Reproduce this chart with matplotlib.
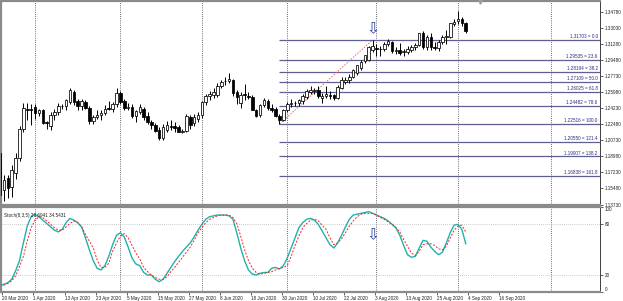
import numpy as np
import matplotlib
matplotlib.use('Agg')
import matplotlib.pyplot as plt

# ---------------- data ----------------
first_bar = -1  # 19 Mar 2020 (partly cut at the left edge)
opens = [1.1935, 1.1530, 1.1660, 1.1560, 1.1720, 1.1880, 1.2200, 1.2420, 1.2420, 1.2440,
         1.2370, 1.2400, 1.2270, 1.2230, 1.2350, 1.2380, 1.2450, 1.2450, 1.2490, 1.2600,
         1.2500, 1.2450, 1.2490, 1.2430, 1.2280, 1.2330, 1.2350, 1.2370, 1.2425, 1.2415,
         1.2470, 1.2590, 1.2500, 1.2430, 1.2440, 1.2340, 1.2380, 1.2420, 1.2340, 1.2275,
         1.2240, 1.2190, 1.2100, 1.2190, 1.2230, 1.2230, 1.2220, 1.2170, 1.2180, 1.2330,
         1.2260, 1.2310, 1.2350, 1.2490, 1.2560, 1.2570, 1.2570, 1.2670, 1.2720, 1.2725,
         1.2730, 1.2600, 1.2480, 1.2580, 1.2560, 1.2550, 1.2410, 1.2345, 1.2460, 1.2500,
         1.2430, 1.2420, 1.2340, 1.2300, 1.2400, 1.2470, 1.2480, 1.2480, 1.2500, 1.2550,
         1.2600, 1.2610, 1.2620, 1.2540, 1.2560, 1.2570, 1.2570, 1.2540, 1.2650, 1.2710,
         1.2730, 1.2770, 1.2810, 1.2860, 1.2935, 1.2955, 1.3060, 1.3080, 1.3070, 1.3070,
         1.3125, 1.3150, 1.3050, 1.3065, 1.3040, 1.3040, 1.3060, 1.3095, 1.3110, 1.3240,
         1.3090, 1.3200, 1.3090, 1.3080, 1.3150, 1.3200, 1.3205, 1.3340, 1.3380, 1.3400,
         1.3350]
highs = [1.2000, 1.1700, 1.1700, 1.1800, 1.1940, 1.2230, 1.2480, 1.2480, 1.2470, 1.2470,
         1.2420, 1.2420, 1.2290, 1.2380, 1.2420, 1.2480, 1.2470, 1.2530, 1.2650, 1.2620,
         1.2520, 1.2530, 1.2510, 1.2450, 1.2350, 1.2400, 1.2400, 1.2460, 1.2500, 1.2490,
         1.2640, 1.2615, 1.2520, 1.2480, 1.2470, 1.2410, 1.2470, 1.2440, 1.2380, 1.2300,
         1.2260, 1.2220, 1.2250, 1.2290, 1.2295, 1.2270, 1.2240, 1.2200, 1.2365, 1.2350,
         1.2360, 1.2380, 1.2500, 1.2580, 1.2610, 1.2640, 1.2700, 1.2730, 1.2760, 1.2810,
         1.2740, 1.2620, 1.2600, 1.2690, 1.2600, 1.2570, 1.2420, 1.2470, 1.2540, 1.2530,
         1.2470, 1.2440, 1.2360, 1.2420, 1.2490, 1.2530, 1.2500, 1.2530, 1.2580, 1.2630,
         1.2670, 1.2650, 1.2670, 1.2590, 1.2670, 1.2610, 1.2580, 1.2680, 1.2760, 1.2760,
         1.2800, 1.2850, 1.2900, 1.2950, 1.3010, 1.3100, 1.31703, 1.3130, 1.3100, 1.3145,
         1.3180, 1.3160, 1.3090, 1.3140, 1.3070, 1.3100, 1.3110, 1.3140, 1.3250, 1.3265,
         1.3220, 1.3250, 1.3150, 1.3170, 1.3220, 1.3280, 1.3360, 1.3400, 1.3482, 1.3420,
         1.3370]
lows = [1.1420, 1.1410, 1.1445, 1.1450, 1.1650, 1.1850, 1.2160, 1.2300, 1.2240, 1.2310,
        1.2340, 1.2250, 1.2200, 1.2190, 1.2300, 1.2350, 1.2420, 1.2410, 1.2470, 1.2460,
        1.2410, 1.2400, 1.2420, 1.2250, 1.2250, 1.2310, 1.2300, 1.2350, 1.2400, 1.2380,
        1.2440, 1.2465, 1.2400, 1.2400, 1.2320, 1.2270, 1.2360, 1.2300, 1.2250, 1.2200,
        1.2170, 1.2075, 1.2080, 1.2170, 1.2190, 1.2170, 1.2160, 1.2150, 1.2165, 1.2200,
        1.2230, 1.2270, 1.2320, 1.2460, 1.2510, 1.2540, 1.2550, 1.2640, 1.2680, 1.2700,
        1.2560, 1.2470, 1.2430, 1.2510, 1.2520, 1.2400, 1.2330, 1.2330, 1.2440, 1.2410,
        1.2380, 1.2330, 1.22516, 1.2290, 1.2380, 1.2440, 1.2450, 1.2450, 1.2470, 1.2530,
        1.2580, 1.2580, 1.2540, 1.2480, 1.2540, 1.2520, 1.2510, 1.2530, 1.2630, 1.2690,
        1.2700, 1.2750, 1.2790, 1.2840, 1.2920, 1.2940, 1.3040, 1.2990, 1.2990, 1.3050,
        1.3100, 1.3030, 1.3020, 1.3010, 1.2990, 1.3020, 1.3040, 1.3060, 1.3100, 1.3070,
        1.3060, 1.3060, 1.3060, 1.3050, 1.3120, 1.3120, 1.3190, 1.3320, 1.3340, 1.3320,
        1.3240]
closes = [1.1480, 1.1640, 1.1550, 1.1750, 1.1880, 1.2200, 1.2430, 1.2410, 1.2410, 1.2370,
          1.2400, 1.2265, 1.2260, 1.2350, 1.2380, 1.2450, 1.2445, 1.2510, 1.2620, 1.2490,
          1.2450, 1.2500, 1.2430, 1.2280, 1.2330, 1.2350, 1.2370, 1.2420, 1.2415, 1.2470,
          1.2590, 1.2490, 1.2430, 1.2440, 1.2340, 1.2390, 1.2440, 1.2330, 1.2270, 1.2240,
          1.2180, 1.2100, 1.2220, 1.2240, 1.2220, 1.2210, 1.2170, 1.2180, 1.2340, 1.2240,
          1.2330, 1.2350, 1.2490, 1.2560, 1.2575, 1.2600, 1.2670, 1.2710, 1.2725, 1.2740,
          1.2590, 1.2550, 1.2570, 1.2570, 1.2550, 1.2410, 1.2340, 1.2460, 1.2510, 1.2430,
          1.2410, 1.2340, 1.2300, 1.2400, 1.2470, 1.2480, 1.2485, 1.2510, 1.2560, 1.2610,
          1.2620, 1.2620, 1.2560, 1.2560, 1.2580, 1.2560, 1.2535, 1.2660, 1.2730, 1.2730,
          1.2770, 1.2840, 1.2895, 1.2930, 1.3000, 1.3095, 1.3100, 1.3075, 1.3068, 1.3130,
          1.3155, 1.3050, 1.3065, 1.3030, 1.3045, 1.3075, 1.3095, 1.3110, 1.3240, 1.3090,
          1.3200, 1.3090, 1.3085, 1.3150, 1.3205, 1.3210, 1.3350, 1.3370, 1.3395, 1.3350,
          1.3270]

stoch_main = [8, 9, 11, 15, 25, 37, 58, 78, 89, 92, 89, 85, 81, 77, 73, 71, 74, 82, 87, 85,
              82, 77, 64, 50, 37, 28, 26, 31, 42, 56, 67, 70, 65, 53, 40, 33, 31, 23, 20, 20,
              15, 12, 15, 22, 29, 36, 42, 48, 53, 58, 65, 73, 80, 86, 89, 90, 91, 91, 91, 90,
              86, 70, 52, 37, 26, 21, 20, 22, 23, 23, 28, 29, 27, 31, 40, 52, 64, 76, 82, 86,
              87, 85, 80, 72, 64, 56, 52, 58, 67, 77, 86, 91, 92, 93, 94, 95, 93, 91, 89, 87,
              84, 80, 76, 67, 55, 44, 41, 42, 52, 61, 60, 53, 48, 44, 47, 58, 70, 79, 80, 74,
              57]
stoch_signal = [7, 8, 10, 13, 19, 30, 42, 60, 76, 85, 89, 88, 84, 80, 76, 73, 73, 77, 81, 84,
                82, 77, 68, 60, 52, 38, 29, 29, 34, 48, 58, 66, 69, 64, 55, 46, 39, 29, 24, 20,
                17, 15, 15, 18, 24, 29, 35, 41, 47, 53, 61, 70, 76, 82, 86, 88, 90, 91, 91, 91,
                88, 81, 66, 50, 37, 28, 23, 21, 22, 23, 24, 26, 28, 29, 31, 42, 55, 66, 76, 81,
                85, 86, 84, 79, 74, 64, 56, 58, 63, 70, 78, 84, 89, 92, 93, 93, 93, 91, 88, 86,
                83, 80, 76, 71, 62, 54, 46, 43, 48, 56, 57, 57, 55, 51, 50, 54, 64, 73, 78, 79,
                71]
stoch_label = "Stoch(8,3,5) 29.6941 34.5431"

date_labels = ["20 Mar 2020", "1 Apr 2020", "13 Apr 2020", "23 Apr 2020", "5 May 2020",
               "15 May 2020", "27 May 2020", "8 Jun 2020", "18 Jun 2020", "30 Jun 2020",
               "10 Jul 2020", "22 Jul 2020", "3 Aug 2020", "13 Aug 2020", "25 Aug 2020",
               "4 Sep 2020", "16 Sep 2020"]
label_step = 8
month_start_bars = [8, 30, 51, 73, 96, 117, 141]

price_ticks = [1.34780, 1.33030, 1.31280, 1.29480, 1.27730, 1.25980, 1.24230,
               1.22480, 1.20730, 1.18980, 1.17230, 1.15480, 1.13730]
stoch_ticks = [100, 80, 20, 0]
stoch_levels = [20, 80]

fib_high = 1.31703
fib_low = 1.22516
fib_high_bar = 95
fib_low_bar = 71
fib_levels = [0.0, 23.6, 38.2, 50.0, 61.8, 78.6, 100.0, 121.4, 138.2, 161.8]

# ---------------- layout ----------------
W, H = 623, 301
fig = plt.figure(figsize=(W / 100, H / 100), dpi=100)
fig.patch.set_facecolor('white')
FONT = ['Liberation Sans', 'DejaVu Sans']
FS = 3.35


def rect(x0, y0, x1, y1):
    return [x0 / W, 1 - y1 / H, (x1 - x0) / W, (y1 - y0) / H]


ax = fig.add_axes(rect(1, 1, 600, 205))
ax2 = fig.add_axes(rect(1, 207, 600, 292), sharex=ax)

x = np.arange(len(closes)) + first_bar
o = np.array(opens); h = np.array(highs); l = np.array(lows); c = np.array(closes)

XMIN, XMAX = -0.77, 153.6
ax.set_xlim(XMIN, XMAX)
ax.set_ylim(1.13676, 1.35948)
ax2.set_ylim(-0.1, 100.5)

# period separators
for b in month_start_bars:
    for a in (ax, ax2):
        a.axvline(b, color='#3a3a3a', lw=0.6, ls=(0, (1, 1.6)), zorder=1)

# fibonacci levels
fib_prices = [fib_high - (fib_high - fib_low) * lv / 100 for lv in fib_levels]
ax.hlines(fib_prices, fib_low_bar, XMAX, colors='#5f5f94', lw=0.9, zorder=1.5)
for p, lv in zip(fib_prices, fib_levels):
    ax.text(XMAX - 0.6, p + 0.0006, f"{p:.5f} = {lv:.1f}", ha='right', va='bottom',
            fontsize=FS, family=FONT, color='#2a2a7a', zorder=5)
ax.plot([fib_low_bar, fib_high_bar], [fib_low, fib_high], color='#e06a6a', lw=0.7,
        ls=(0, (1.5, 1.5)), zorder=1.6)

# candles
up = c >= o
ax.vlines(x, l, h, color='black', lw=0.7, zorder=2)
body_lo = np.minimum(o, c)
body_h = np.maximum(np.abs(c - o), 0.0002)
ax.bar(x, body_h, bottom=body_lo, width=0.66,
       color=np.where(up, 'white', 'black'), edgecolor='black', linewidth=0.55, zorder=3)

# arrows
ax.text(fib_high_bar, fib_high + 0.0125, '\u21e9', ha='center', va='center', fontsize=11,
        color='#2b3f9e', family=['DejaVu Sans'], zorder=6)
ax2.text(fib_high_bar, 68, '\u21e9', ha='center', va='center', fontsize=11,
         color='#2b3f9e', family=['DejaVu Sans'], zorder=6)

# stochastic
ax2.axhline(stoch_levels[0], color='#b8b8b8', lw=0.6, ls=(0, (1, 1.5)), zorder=1)
ax2.axhline(stoch_levels[1], color='#b8b8b8', lw=0.6, ls=(0, (1, 1.5)), zorder=1)
ax2.plot(x, stoch_main, color='#20b2aa', lw=1.0, zorder=3)
ax2.plot(x, stoch_signal, color='#ff2020', lw=0.7, ls=(0, (2, 1.6)), zorder=3)
ax2.text(0.005, 0.93, stoch_label, transform=ax2.transAxes, ha='left', va='top',
         fontsize=FS, family=FONT, color='#202020')

# axes styling
for a in (ax, ax2):
    a.set_facecolor('white')
    for s in ('left', 'top', 'bottom'):
        a.spines[s].set_color('#8a8a8a')
        a.spines[s].set_linewidth(1.6)
    a.spines['right'].set_color('#404040')
    a.spines['right'].set_linewidth(0.7)
    a.yaxis.tick_right()
    a.tick_params(axis='y', length=2, width=0.5, pad=1.2, labelsize=FS, colors='#202020')

ax.set_yticks(price_ticks)
ax.set_yticklabels([f"{p:.5f}" for p in price_ticks], family=FONT)
ax2.set_yticks(stoch_ticks)
ylabs = ax2.set_yticklabels([str(t) for t in stoch_ticks], family=FONT)
ylabs[0].set_va('top')
ylabs[-1].set_va('bottom')

ax.tick_params(axis='x', bottom=False, labelbottom=False)
xt = [i * label_step - 0.4 for i in range(len(date_labels))]
ax2.set_xticks(xt)
ax2.set_xticklabels(date_labels, family=FONT, ha='left')
ax2.tick_params(axis='x', length=2, width=0.5, pad=1.0, labelsize=FS, colors='#202020')
ax2.set_xlim(XMIN, XMAX)

# chart-shift marker at the top
ax.plot([0.8], [0.993], marker='v', ms=2.5, color='#a0a0a0', transform=ax.transAxes,
        clip_on=False, zorder=7)

fig.savefig('out.png', dpi=100, facecolor='white')
